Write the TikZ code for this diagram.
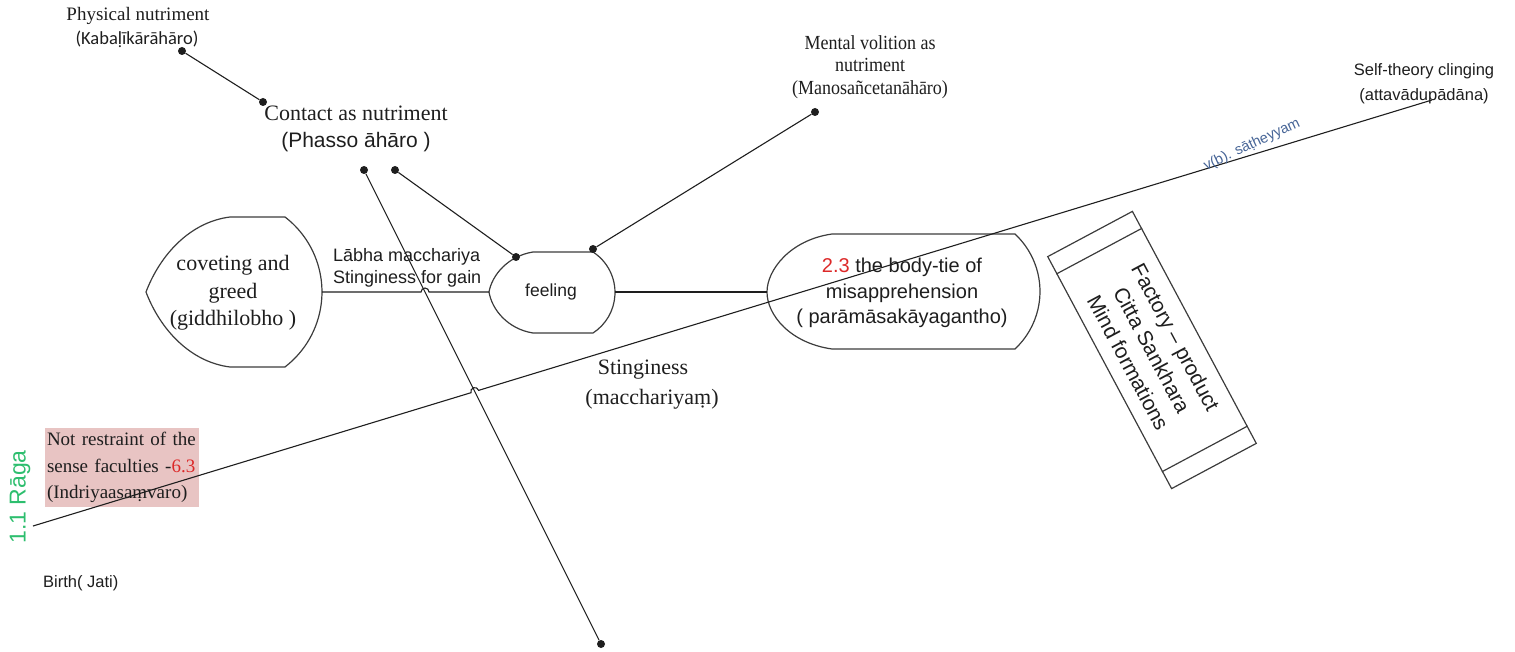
\documentclass[tikz,border=0pt]{standalone}
\usepackage{fontspec}
\setmainfont{Liberation Serif}
\setsansfont{Liberation Sans}
\newfontfamily\calib{Carlito}
\newfontfamily\serifnarrow[FakeStretch=0.9]{Liberation Serif}
\usetikzlibrary{calc}
\definecolor{ink}{RGB}{30,30,30}
\definecolor{edge}{RGB}{60,60,60}
\definecolor{numred}{RGB}{220,40,40}
\definecolor{ragagreen}{RGB}{45,190,110}
\definecolor{tagblue}{RGB}{70,100,150}
\definecolor{blush}{RGB}{232,196,195}
\newcommand\fsz[2]{\fontsize{#1}{#2}\selectfont}

\begin{document}
\begin{tikzpicture}[x=1pt,y=-1pt,
  lbl/.style={inner sep=0pt, align=center, text=ink},
  dot/.style={circle, fill=ink, inner sep=0pt, minimum size=8pt},
  link/.style={draw=ink, line width=1.1pt},
  outline/.style={draw=edge, line width=1.2pt}]

\useasboundingbox (0,0) rectangle (1515,652);

% ---------- display shapes ----------
% coveting and greed
\draw[outline] (230,217) -- (285,217)
  arc[start angle=52.5, end angle=-52.5, radius=94.5pt]
  -- (230,367) .. controls (190,362) and (160,329) .. (146,292)
  .. controls (160,255) and (190,222) .. (230,217) -- cycle;
\coordinate (covR) at (322,292);
\coordinate (covL) at (146,292);

% feeling
\draw[outline] (533,252) -- (593,252)
  arc[start angle=57, end angle=-57, radius=48.3pt]
  -- (533,333) .. controls (508,329) and (492,310) .. (489,292)
  .. controls (492,275) and (508,256) .. (533,252) -- cycle;
\coordinate (feelL) at (489,292);
\coordinate (feelR) at (615,292);

% body-tie of misapprehension
\draw[outline] (832,234) -- (1015,234)
  arc[start angle=47, end angle=-47, radius=78.6pt]
  -- (832,349) .. controls (790,343) and (767,315) .. (767,292)
  .. controls (767,270) and (790,240) .. (832,234) -- cycle;
\coordinate (misL) at (767,292);

% ---------- text of the shapes ----------
\node[lbl, font=\fsz{22}{27.5}] (covText) at (233,293)
  {coveting and\\greed\\(giddhilobho )};
\node[lbl, font=\sffamily\fsz{17.5}{21}] (feelText) at (551,292) {feeling};
\node[lbl, font=\sffamily\fsz{20}{25.5}] (misText) at (902,293)
  {\textcolor{numred}{2.3} the body-tie of\\misapprehension\\( parāmāsakāyagantho)};

% ---------- nutriment labels ----------
\node[lbl, font=\fsz{19}{22}] (phys) at (138,16) {Physical nutriment};
\node[lbl, font=\calib\fsz{18.5}{22}] (physPali) at (137,39) {(Kabaḷīkārāhāro)};
\node[lbl, font=\fsz{22}{26}] (contact) at (356,113) {Contact as nutriment};
\node[lbl, font=\sffamily\fsz{21}{25}] (contactPali) at (356,142) {(Phasso āhāro )};
\node[lbl, font=\serifnarrow\fsz{20}{22.5}] (mental) at (870,67)
  {Mental volition as\\nutriment\\(Manosañcetanāhāro)};
\node[lbl, font=\sffamily\fsz{16.5}{25}] (self) at (1424,84)
  {Self-theory clinging\\(attavādupādāna)};

% ---------- dots ----------
\node[dot] (dPhys) at (182,51) {};
\node[dot] (dContact) at (263,102) {};
\node[dot] (dC1) at (364,170) {};
\node[dot] (dC2) at (395,170) {};
\node[dot] (dBottom) at (601,644) {};
\node[dot] (dFeelTL) at (516,257) {};
\node[dot] (dFeelTR) at (593,249) {};
\node[dot] (dMental) at (815,112) {};

% ---------- other labels ----------
\node[lbl, font=\sffamily\fsz{18}{22}, align=left, anchor=west] (gain) at (333,268)
  {Lābha macchariya\\Stinginess for gain};
\node[lbl, font=\fsz{22}{26}] (sting) at (643,370) {Stinginess};
\node[lbl, font=\fsz{22}{26}] (stingPali) at (652,399) {(macchariyaṃ)};
\node[fill=blush, inner sep=2pt, align=left, text width=150pt,
      minimum height=79pt, font=\fsz{19}{26.5}, text=ink] (restraint) at (122,467.5)
  {Not restraint of the\\sense faculties -\textcolor{numred}{6.3}\\(Indriyaasaṃvaro)};
\node[lbl, rotate=90, font=\sffamily\fsz{23}{26}, text=ragagreen] (raga) at (20,497) {1.1 Rāga};
\node[lbl, font=\sffamily\fsz{16.5}{20}, anchor=west] (birth) at (43,583) {Birth( Jati)};

% ---------- factory box ----------
\node[draw=edge, line width=1.2pt, rotate=-61.9, minimum width=263pt, minimum height=96pt,
      align=center, inner sep=0pt, font=\sffamily\fsz{21}{27}, text=ink] (factory) at (1152,350)
  {Factory – product\\Citta Sankhara\\Mind formations};
\draw[outline] ($(factory.north west)!20pt!(factory.north east)$) -- ($(factory.south west)!20pt!(factory.south east)$);
\draw[outline] ($(factory.north east)!20pt!(factory.north west)$) -- ($(factory.south east)!20pt!(factory.south west)$);

% ---------- connectors ----------
\coordinate (aStart) at (33,526);
\coordinate (aEnd) at (1432,100);
\coordinate (xA) at (intersection of aStart--aEnd and dC1--dBottom);
\coordinate (xB) at (intersection of covR--feelL and dC1--dBottom);

\draw[link] (dPhys) -- (dContact);
\draw[link] (dC2) -- (dFeelTL);
\draw[link] (dMental) -- (dFeelTR);
\draw[link] (dC1) -- (dBottom);
\draw[link] (feelR) -- (misL);
\draw[link] (covR) -- ($(xB)+(-4,0)$) arc[start angle=180, end angle=0, radius=4pt] -- (feelL);
\draw[link] (aStart) -- ($(xA)!4pt!(aStart)$)
  arc[start angle=196.94, end angle=16.94, radius=4pt] -- (aEnd);

\node[lbl, rotate=25, font=\sffamily\fsz{14.5}{16}, text=tagblue] (sathe) at (1252,145) {v(b). sāṭheyyam};
\end{tikzpicture}
\end{document}
